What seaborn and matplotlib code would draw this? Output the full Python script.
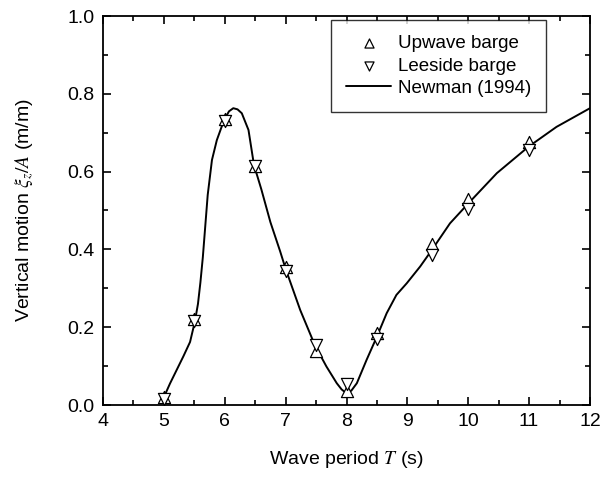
import numpy as np
import pandas as pd
import matplotlib
matplotlib.use("Agg")
import matplotlib.pyplot as plt
import seaborn as sns

# Experimental data
T_exp = [5.0, 5.5, 6.0, 6.5, 7.0, 7.5, 8.0, 8.5, 9.4, 10.0, 11.0]
up_vals = [0.020, 0.220, 0.735, 0.615, 0.355, 0.140, 0.035, 0.185, 0.415, 0.530, 0.675]
lee_vals = [0.015, 0.215, 0.730, 0.615, 0.345, 0.155, 0.055, 0.170, 0.385, 0.505, 0.655]

# Newman (1994) curve
T_newman = [5.0, 5.1, 5.21, 5.32, 5.43, 5.51, 5.56, 5.60, 5.64, 5.68, 5.72, 5.79,
            5.87, 5.99, 6.07, 6.14, 6.21, 6.28, 6.39, 6.48, 6.60, 6.75, 6.91, 7.0,
            7.24, 7.48, 7.67, 7.84, 7.92, 8.0, 8.08, 8.17, 8.33, 8.5, 8.66, 8.82,
            8.99, 9.21, 9.40, 9.70, 10.0, 10.47, 10.99, 11.45, 12.0]
newman_vals = [0.020, 0.055, 0.090, 0.125, 0.162, 0.215, 0.260, 0.315, 0.380, 0.460,
               0.540, 0.630, 0.681, 0.733, 0.755, 0.763, 0.760, 0.750, 0.707, 0.617,
               0.555, 0.470, 0.395, 0.350, 0.244, 0.154, 0.099, 0.056, 0.040, 0.030,
               0.037, 0.056, 0.116, 0.176, 0.236, 0.283, 0.313, 0.356, 0.398, 0.467,
               0.518, 0.596, 0.664, 0.715, 0.763]

sns.set_theme(style="ticks")
plt.rcParams["font.family"] = ["Liberation Sans", "DejaVu Sans"]
plt.rcParams["mathtext.fontset"] = "stix"

fig = plt.figure(figsize=(6.03, 4.79), dpi=100)
ax = fig.add_axes([103 / 603, 74 / 479, 487 / 603, 389 / 479])

df_up = pd.DataFrame({"T": T_exp, "v": up_vals})
df_lee = pd.DataFrame({"T": T_exp, "v": lee_vals})
df_new = pd.DataFrame({"T": T_newman, "v": newman_vals})

sns.scatterplot(data=df_up, x="T", y="v", marker="^", s=76, facecolors="white",
                edgecolor="black", linewidth=0.9, ax=ax, label="Upwave barge", zorder=3)
sns.scatterplot(data=df_lee, x="T", y="v", marker="v", s=76, facecolors="white",
                edgecolor="black", linewidth=0.9, ax=ax, label="Leeside barge", zorder=3)
sns.lineplot(data=df_new, x="T", y="v", color="black", linewidth=1.4, ax=ax,
             label="Newman (1994)", zorder=2)

ax.set_xlim(4, 12)
ax.set_ylim(0, 1.0)
ax.set_xticks(np.arange(4, 13, 1))
ax.set_yticks(np.arange(0, 1.01, 0.2))
ax.set_yticklabels([f"{v:.1f}" for v in np.arange(0, 1.01, 0.2)])
ax.set_xticks(np.arange(4.5, 12, 1), minor=True)
ax.set_yticks(np.arange(0.1, 1.0, 0.2), minor=True)
ax.tick_params(which="both", direction="in", top=True, right=True, labelsize=14,
               width=1.2, color="black", labelcolor="black")
ax.tick_params(which="major", length=6, pad=6)
ax.tick_params(which="minor", length=3.5)
for sp in ax.spines.values():
    sp.set_linewidth(1.3)
    sp.set_color("black")

ax.set_xlabel(r"Wave period $T$ (s)", fontsize=14, color="black")
ax.set_ylabel(r"Vertical motion $\xi_z/A$ (m/m)", fontsize=14, color="black")
ax.xaxis.set_label_coords(0.5, -0.112)
ax.yaxis.set_label_coords(-0.137, 0.5)

leg = ax.legend(loc="upper right", bbox_to_anchor=(0.9097, 0.9897), borderaxespad=0,
                frameon=True, fontsize=13.5, fancybox=False, edgecolor="black",
                handlelength=2.4, handletextpad=0.35, borderpad=0.8,
                labelspacing=0.28, markerscale=0.75)
leg.get_frame().set_linewidth(1.0)
for t in leg.get_texts():
    t.set_color("black")

fig.savefig("out.png", dpi=100)
